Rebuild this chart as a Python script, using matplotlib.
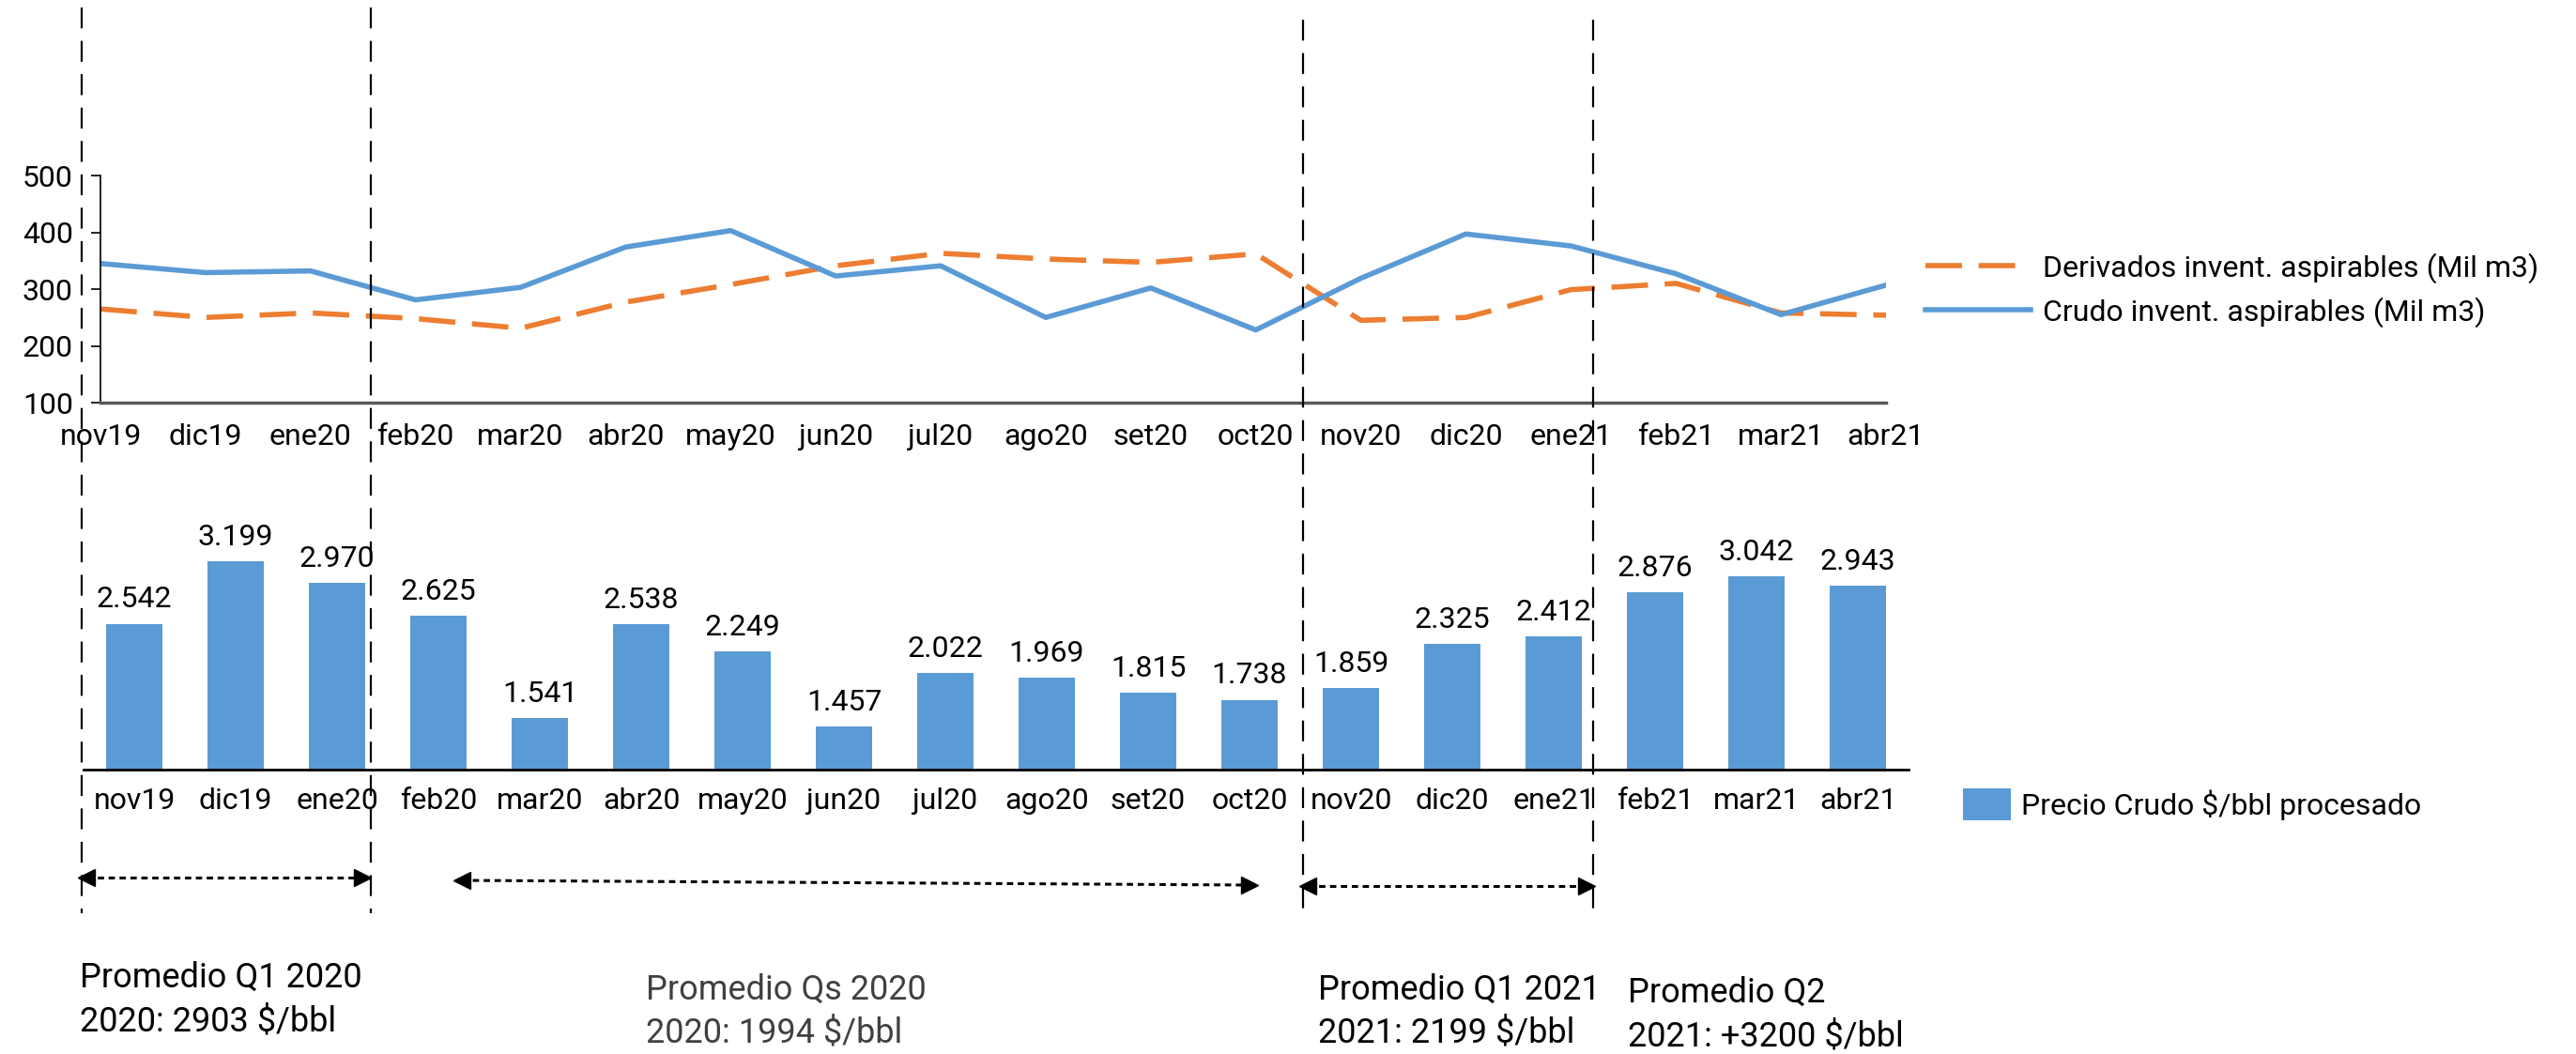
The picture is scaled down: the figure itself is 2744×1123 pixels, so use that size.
import matplotlib
matplotlib.use("Agg")
import matplotlib.pyplot as plt
from matplotlib.lines import Line2D

plt.rcParams['font.family'] = ['Roboto', 'DejaVu Sans']

# months shared by both panels
months = ['nov19', 'dic19', 'ene20', 'feb20', 'mar20', 'abr20', 'may20', 'jun20', 'jul20',
          'ago20', 'set20', 'oct20', 'nov20', 'dic20', 'ene21', 'feb21', 'mar21', 'abr21']

# inventories (Mil m3)
derivados = [265, 250, 258, 248, 231, 277, 308, 341, 363, 353, 347, 362, 245, 250, 299, 310, 258, 254]
crudo = [345, 329, 332, 281, 303, 374, 403, 323, 341, 250, 302, 228, 319, 397, 376, 327, 255, 307]

# crude price $/bbl processed
precio = [2542, 3199, 2970, 2625, 1541, 2538, 2249, 1457, 2022, 1969, 1815, 1738,
          1859, 2325, 2412, 2876, 3042, 2943]

yticks_top = [100, 200, 300, 400, 500]

# bottom notes: (text lines, x px, y px of first line, colour)
notes = [
    (['Promedio Q1 2020', '2020: 2903 $/bbl'], 85, 1042, '#000000'),
    (['Promedio Qs 2020', '2020: 1994 $/bbl'], 688, 1055, '#404040'),
    (['Promedio Q1 2021', '2021: 2199 $/bbl'], 1404, 1055, '#000000'),
    (['Promedio Q2', '2021: +3200 $/bbl'], 1734, 1058, '#000000'),
]

W, H = 2744, 1123
fig = plt.figure(figsize=(W / 100, H / 100), dpi=100)

def fx(px):
    return px / W

def fy(py):
    return 1 - py / H

FS = 23
BLUE = '#5B9BD5'
ORANGE = '#ED7D31'

# ---- top: line chart
ax1 = fig.add_axes([fx(107), fy(429), fx(2009 - 107), (429 - 187) / H])
x = list(range(len(months)))
ax1.plot(x, derivados, color=ORANGE, lw=4, dashes=(7, 3.2),
         label='Derivados invent. aspirables (Mil m3)')
ax1.plot(x, crudo, color=BLUE, lw=4, label='Crudo invent. aspirables (Mil m3)')
ax1.set_xlim(0, 17)
ax1.set_ylim(100, 500)
ax1.set_yticks(yticks_top)
ax1.set_xticks(x)
ax1.set_xticklabels(months)
ax1.tick_params(axis='x', length=0, pad=16, labelsize=FS)
ax1.tick_params(axis='y', length=7, width=1.2, pad=14, labelsize=FS)
for s in ['top', 'right']:
    ax1.spines[s].set_visible(False)
ax1.spines['left'].set_linewidth(1.2)
ax1.spines['bottom'].set_color('#595959')
ax1.spines['bottom'].set_linewidth(2.5)
ax1.legend(loc='center left', bbox_to_anchor=(fx(2051), fy(309)), bbox_transform=fig.transFigure,
           frameon=False, fontsize=FS, borderpad=0, borderaxespad=0,
           handlelength=3.5, handletextpad=0.4, labelspacing=0.45)

# ---- bottom: bars
ax2 = fig.add_axes([fx(89), fy(820), fx(2033 - 89), (820 - 568) / H])
ax2.bar(x, precio, width=0.55, color=BLUE, label='Precio Crudo $/bbl procesado')
ax2.set_ylim(1000, 3500)
ax2.set_xlim(-0.5, 17.5)
ax2.set_xticks(x)
ax2.set_xticklabels(months)
ax2.set_yticks([])
ax2.tick_params(axis='x', length=0, pad=14, labelsize=FS)
for s in ['top', 'right', 'left']:
    ax2.spines[s].set_visible(False)
ax2.spines['bottom'].set_linewidth(2)
for xi, v in zip(x, precio):
    ax2.annotate(f'{v:,}'.replace(',', '.'), (xi, v), xytext=(0, 8), textcoords='offset points',
                 ha='center', va='bottom', fontsize=FS)
ax2.legend(loc='center left', bbox_to_anchor=(fx(2091), fy(857)), bbox_transform=fig.transFigure,
           frameon=False, fontsize=FS, borderpad=0, borderaxespad=0,
           handlelength=1.6, handleheight=1.25, handletextpad=0.35)

# ---- vertical dashed separators
for xp, y0 in [(87, 8), (395, 8), (1388, 21), (1697, 21)]:
    fig.add_artist(Line2D([fx(xp), fx(xp)], [fy(y0), fy(973)], color='black', lw=1.6,
                          dashes=(10, 6)))

# ---- double-headed dotted arrows
for x0, y0, x1, y1 in [(92, 935, 386, 935), (492, 938, 1331, 943), (1393, 944, 1690, 944)]:
    fig.add_artist(Line2D([fx(x0), fx(x1)], [fy(y0), fy(y1)], color='black', lw=2.2,
                          dashes=(2.2, 1.6)))
    fig.add_artist(Line2D([fx(x0)], [fy(y0)], marker='<', color='black', markersize=13, lw=0))
    fig.add_artist(Line2D([fx(x1)], [fy(y1)], marker='>', color='black', markersize=13, lw=0))

# ---- notes
for lines, xp, yp, col in notes:
    for i, t in enumerate(lines):
        fig.text(fx(xp), fy(yp + i * 46), t, fontsize=26, color=col,
                 ha='left', va='center')

fig.savefig('out.png', dpi=100)
